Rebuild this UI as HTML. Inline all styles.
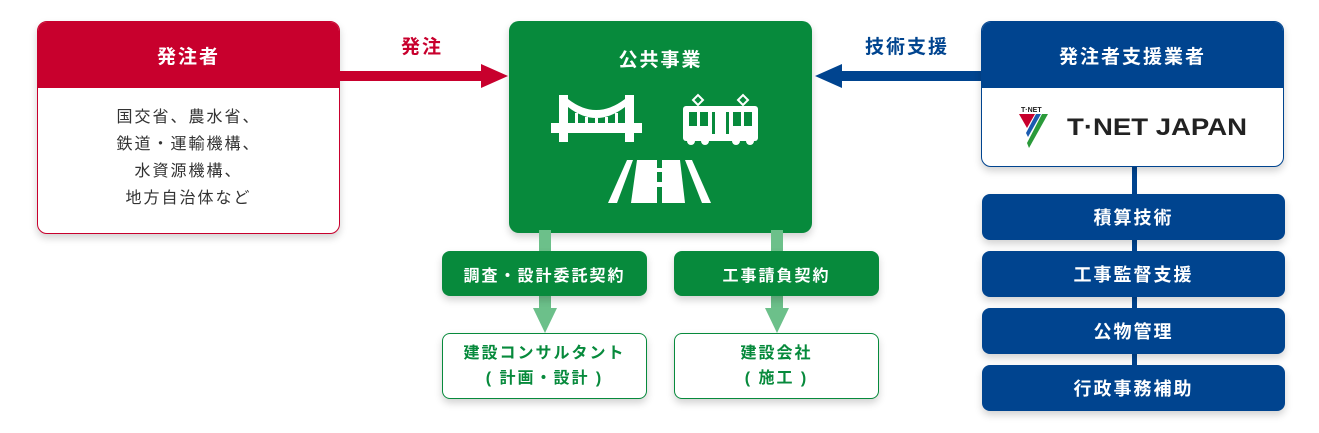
<!DOCTYPE html>
<html><head><meta charset="utf-8"><style>
body{margin:0;width:1319px;height:433px;background:#fff;position:relative;overflow:hidden;font-family:"Liberation Sans","Noto Sans CJK JP",sans-serif;}
.a{position:absolute;box-sizing:border-box;}
.c{display:flex;align-items:center;justify-content:center;text-align:center;font-weight:bold;letter-spacing:2px;}
.sh{box-shadow:0 4px 8px rgba(0,0,0,0.18);}
</style></head><body>
<!-- left box -->
<div class="a sh" style="left:37px;top:21px;width:303px;height:213px;border:1px solid #c8002d;border-radius:10px;background:#fff;overflow:hidden">
 <div class="a c" style="left:0;top:0;width:100%;height:66px;background:#c8002d;color:#fff;font-size:19px">発注者</div>
 <div class="a" style="left:0;top:82px;width:100%;text-align:center;color:#333;font-size:16px;line-height:27px;letter-spacing:2px">国交省、農水省、<br>鉄道・運輸機構、<br>水資源機構、<br>地方自治体など</div>
</div>
<!-- red arrow -->
<div class="a c" style="left:390px;top:32px;width:64px;height:26px;color:#c8002d;font-size:19px">発注</div>
<svg class="a" style="left:340px;top:60px" width="170" height="30"><rect x="0" y="11" width="142" height="10" fill="#c8002d"/><polygon points="141,4 168,16 141,28" fill="#c8002d"/></svg>
<!-- center -->
<div class="a sh" style="left:509px;top:21px;width:303px;height:212px;background:#078a3c;border-radius:10px">
 <div class="a c" style="left:0;top:24px;width:100%;color:#fff;font-size:19px">公共事業</div>
 <svg class="a" style="left:0;top:0" width="303" height="212">
  <g fill="#fff">
   <!-- bridge -->
   <rect x="42" y="102" width="91" height="10"/>
   <rect x="50" y="74" width="9" height="47"/><rect x="116" y="74" width="9" height="47"/>
   <path d="M59 78 Q87 100 116 78 L116 86 Q87 108 59 86 Z"/>
   <rect x="66" y="92" width="3" height="10"/><rect x="76" y="96" width="3" height="6"/><rect x="86" y="97" width="3" height="5"/><rect x="96" y="96" width="3" height="6"/><rect x="106" y="92" width="3" height="10"/>
   <!-- train -->
   <rect x="174" y="85" width="75" height="35" rx="3"/>
   <circle cx="182" cy="120" r="4"/><circle cx="196" cy="120" r="4"/><circle cx="227" cy="120" r="4"/><circle cx="241" cy="120" r="4"/>
   <polygon points="189,84 184,79 189,74 194,79" fill="none" stroke="#fff" stroke-width="2"/>
   <polygon points="234,84 229,79 234,74 239,79" fill="none" stroke="#fff" stroke-width="2"/>
   <!-- road -->
   <polygon points="118,139 124,139 108,182 99,182"/>
   <polygon points="128,139 171,139 176,182 122,182"/>
   <polygon points="176,139 183,139 202,182 193,182"/>
  </g>
  <g fill="#078a3c">
   <rect x="180" y="91" width="8" height="14"/><rect x="191" y="91" width="8" height="14"/><rect x="224" y="91" width="8" height="14"/><rect x="235" y="91" width="8" height="14"/>
   <rect x="203" y="91" width="3" height="22"/><rect x="217" y="91" width="3" height="22"/>
   <rect x="148" y="139" width="5" height="8"/><rect x="148" y="151" width="5" height="10"/><rect x="148" y="166" width="5" height="16"/>
  </g>
 </svg>
</div>
<!-- blue arrow -->
<div class="a c" style="left:857px;top:32px;width:100px;height:26px;color:#00448f;font-size:19px">技術支援</div>
<svg class="a" style="left:814px;top:60px" width="170" height="30"><rect x="26" y="11" width="144" height="10" fill="#00448f"/><polygon points="1,16 28,4 28,28" fill="#00448f"/></svg>
<!-- right box -->
<div class="a" style="left:1132px;top:160px;width:5px;height:240px;background:#00448f"></div>
<div class="a sh" style="left:981px;top:21px;width:303px;height:146px;border:1px solid #00448f;border-radius:10px;background:#fff;overflow:hidden">
 <div class="a c" style="left:0;top:0;width:100%;height:66px;background:#00448f;color:#fff;font-size:19px">発注者支援業者</div>
 <svg class="a" style="left:35px;top:82px" width="240" height="50">
  <text x="4" y="8" font-size="7" font-weight="bold" fill="#222" font-family="Liberation Sans">T·NET</text>
  <polygon points="2,10 18,10 10,24" fill="#c8002d"/>
  <polygon points="19,10 24,10 11,33 9,29" fill="#1a5bb0"/>
  <polygon points="25,10 31,10 12,44 10,39" fill="#2a9a3a"/>
  <text x="50" y="31" font-size="24" font-weight="bold" fill="#222" font-family="Liberation Sans" textLength="180" lengthAdjust="spacingAndGlyphs">T·NET JAPAN</text>
 </svg>
</div>
<div class="a c sh" style="left:982px;top:194px;width:303px;height:46px;background:#00448f;border-radius:8px;color:#fff;font-size:18px">積算技術</div>
<div class="a c sh" style="left:982px;top:251px;width:303px;height:46px;background:#00448f;border-radius:8px;color:#fff;font-size:18px">工事監督支援</div>
<div class="a c sh" style="left:982px;top:308px;width:303px;height:46px;background:#00448f;border-radius:8px;color:#fff;font-size:18px">公物管理</div>
<div class="a c sh" style="left:982px;top:365px;width:303px;height:46px;background:#00448f;border-radius:8px;color:#fff;font-size:18px">行政事務補助</div>
<!-- bottom green -->
<svg class="a" style="left:520px;top:230px" width="280" height="110">
 <g fill="#6cc08a"><rect x="19" y="0" width="12" height="80"/><polygon points="13,78 37,78 25,103"/>
 <rect x="251" y="0" width="12" height="80"/><polygon points="245,78 269,78 257,103"/></g>
</svg>
<div class="a c sh" style="left:442px;top:251px;width:205px;height:45px;background:#078a3c;border-radius:8px;color:#fff;font-size:16px">調査・設計委託契約</div>
<div class="a c sh" style="left:674px;top:251px;width:205px;height:45px;background:#078a3c;border-radius:8px;color:#fff;font-size:16px">工事請負契約</div>
<div class="a c sh" style="left:442px;top:333px;width:205px;height:66px;border:1px solid #078a3c;background:#fff;border-radius:8px;color:#078a3c;font-size:16px;line-height:25px">建設コンサルタント<br>( 計画・設計 )</div>
<div class="a c sh" style="left:674px;top:333px;width:205px;height:66px;border:1px solid #078a3c;background:#fff;border-radius:8px;color:#078a3c;font-size:16px;line-height:25px">建設会社<br>( 施工 )</div>
</body></html>
